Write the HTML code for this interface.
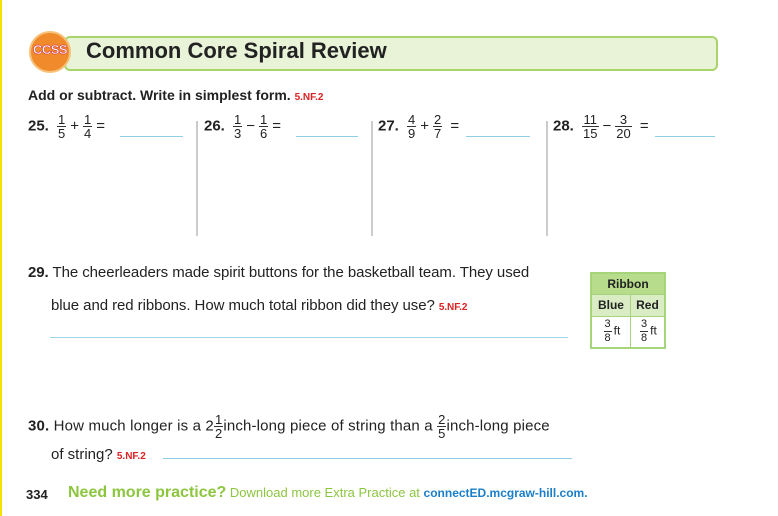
<!DOCTYPE html>
<html><head><meta charset="utf-8"><style>
body{margin:0;width:778px;height:516px;background:#fff;position:relative;overflow:hidden;font-family:"Liberation Sans",sans-serif;color:#222}
.a{position:absolute;white-space:nowrap}
.fr{display:inline-block;vertical-align:middle;text-align:center;font-size:13px;line-height:13px;margin:0 4px}
.fr span{display:block;padding:0 1px}
.fr span:first-child{border-bottom:1px solid #333}
.bl{position:absolute;height:1px;background:#8fcfe6}
.dv{position:absolute;width:2px;background:#ccc}
.q{font-size:15px}
b{font-weight:bold}
.red{color:#d22;font-size:10px;font-weight:bold}
td{border:1px solid #a5d47a;text-align:center;font-size:12px;padding:0}
</style></head><body>
<div class="a" style="left:0;top:0;width:2px;height:516px;background:#f5e200"></div>
<div class="a" style="left:64px;top:36px;width:650px;height:31px;background:#e8f3d8;border:2px solid #a8d46a;border-radius:6px"></div>
<div class="a" style="left:29px;top:31px;width:38px;height:38px;border-radius:50%;background:#f08a2a;border:2px solid #f6c27a"></div>
<div class="a" style="left:31px;top:42px;width:38px;text-align:center;font-size:13px;font-weight:bold;color:#fff;letter-spacing:-0.5px;-webkit-text-stroke:0.4px #c03">CCSS</div>
<div class="a" style="left:86px;top:38px;font-size:22px;font-weight:bold;color:#222">Common Core Spiral Review</div>
<div class="a" style="left:28px;top:87px;font-size:14px;font-weight:bold">Add or subtract. Write in simplest form. <span class="red">5.NF.2</span></div>

<div class="a q" style="left:28px;top:113px"><b>25.</b> <span class="fr"><span>1</span><span>5</span></span>+<span class="fr"><span>1</span><span>4</span></span>=</div>
<div class="bl" style="left:120px;top:136px;width:63px"></div>
<div class="dv" style="left:196px;top:121px;height:115px"></div>
<div class="a q" style="left:204px;top:113px"><b>26.</b> <span class="fr"><span>1</span><span>3</span></span>−<span class="fr"><span>1</span><span>6</span></span>=</div>
<div class="bl" style="left:296px;top:136px;width:62px"></div>
<div class="dv" style="left:371px;top:121px;height:115px"></div>
<div class="a q" style="left:378px;top:113px"><b>27.</b> <span class="fr"><span>4</span><span>9</span></span>+<span class="fr"><span>2</span><span>7</span></span> =</div>
<div class="bl" style="left:466px;top:136px;width:64px"></div>
<div class="dv" style="left:546px;top:121px;height:115px"></div>
<div class="a q" style="left:553px;top:113px"><b>28.</b> <span class="fr"><span>11</span><span>15</span></span>−<span class="fr"><span>3</span><span>20</span></span> =</div>
<div class="bl" style="left:655px;top:136px;width:60px"></div>

<div class="a q" style="left:28px;top:264px;letter-spacing:-0.07px"><b>29.</b> The cheerleaders made spirit buttons for the basketball team. They used</div>
<div class="a q" style="left:51px;top:297px;letter-spacing:-0.07px">blue and red ribbons. How much total ribbon did they use? <span class="red">5.NF.2</span></div>
<div class="bl" style="left:50px;top:337px;width:518px;background:#9fd6ea"></div>
<table style="position:absolute;left:590px;top:272px;width:76px;border-collapse:collapse;border:2px solid #a5d47a">
<tr style="height:21px;background:#b6dc8c"><td colspan="2"><b>Ribbon</b></td></tr>
<tr style="height:22px;background:#d9ecc3"><td><b>Blue</b></td><td><b>Red</b></td></tr>
<tr style="height:32px"><td><span class="fr" style="font-size:11px;margin:0 2px"><span>3</span><span>8</span></span>ft</td><td><span class="fr" style="font-size:11px;margin:0 2px"><span>3</span><span>8</span></span>ft</td></tr>
</table>

<div class="a q" style="left:28px;top:413px;letter-spacing:0.16px"><b>30.</b> How much longer is a 2<span class="fr" style="margin:0"><span>1</span><span>2</span></span>inch-long piece of string than a <span class="fr" style="margin:0"><span>2</span><span>5</span></span>inch-long piece</div>
<div class="a q" style="left:51px;top:446px">of string? <span class="red">5.NF.2</span></div>
<div class="bl" style="left:163px;top:458px;width:409px"></div>

<div class="a" style="left:26px;top:487px;font-size:13px"><b>334</b></div>
<div class="a" style="left:68px;top:484px;font-size:13px;color:#8cc63f"><b style="font-size:16px">Need more practice?</b> Download more Extra Practice at <b style="color:#1a7fc8;font-size:12px">connectED.mcgraw-hill.com.</b></div>
</body></html>
